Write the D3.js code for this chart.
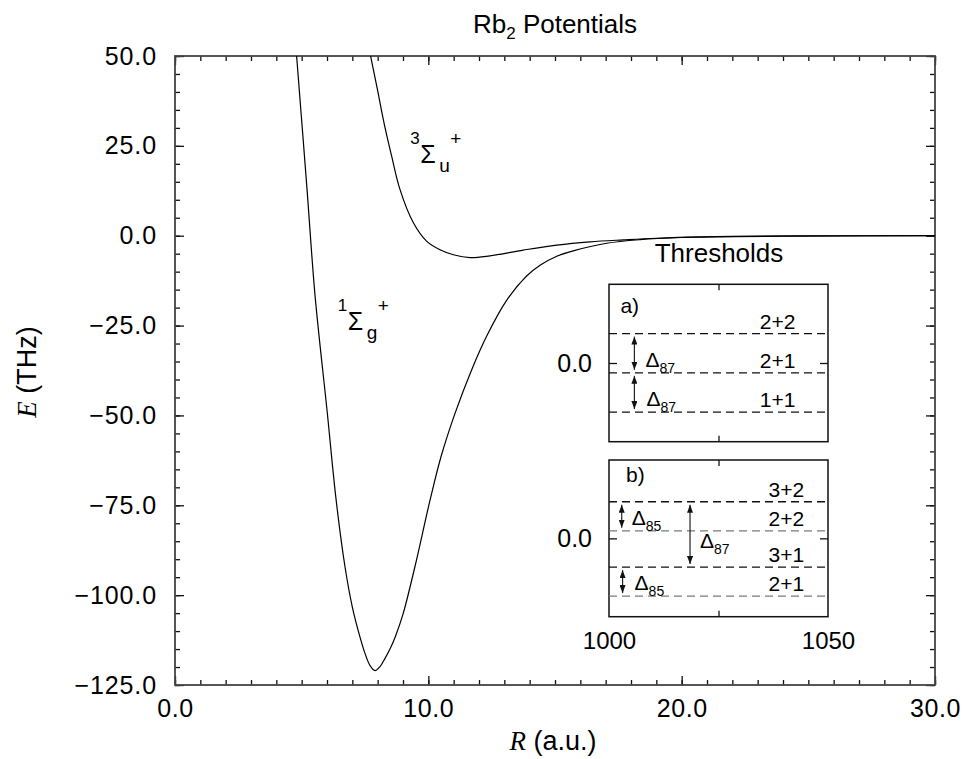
<!DOCTYPE html>
<html>
<head>
<meta charset="utf-8">
<script src="https://cdn.jsdelivr.net/npm/d3@7"></script>
<style>
  body { margin: 0; background: #fff; }
  svg { font-family: "Liberation Sans", Arial, sans-serif; }
  .tick text { fill: #000; }
</style>
</head>
<body>
<div id="chart"></div>
<script>
// singlet 1Σg+ potential (R in a.u., E in THz)
const singletR = [4.80, 5.20, 5.53, 6.00, 6.36, 6.71, 7.00, 7.30, 7.50, 7.70, 7.89, 8.10, 8.29, 8.50, 8.70, 9.00, 9.47, 10.07, 10.50, 11.05, 11.70, 12.30, 13.09, 13.88, 14.41, 15.07, 15.72, 17.04, 18.36, 20.0, 22.0, 25.0, 30.0];
const singletE = [50, 14, -16.8, -48.5, -73.5, -92.1, -103.3, -111.6, -116.2, -119.6, -121.0, -119.8, -117.6, -114.8, -111.5, -105.3, -92.1, -73.5, -61.5, -49.5, -37.5, -28.0, -18.0, -11.2, -8.2, -5.7, -4.2, -2.1, -1.1, -0.5, -0.2, -0.05, 0];
// triplet 3Σu+ potential
const tripletR = [7.72, 7.99, 8.25, 8.55, 8.88, 9.41, 9.93, 10.46, 10.99, 11.64, 12.43, 13.75, 15.07, 16.38, 17.70, 19.0, 21.0, 24.0, 30.0];
const tripletE = [50, 40.7, 31.4, 22.2, 12.9, 3.6, -1.5, -3.9, -5.3, -6.1, -5.6, -4.0, -2.6, -1.7, -1.15, -0.7, -0.35, -0.12, 0];

// threshold energies (GHz) for the insets
const thresholdsA = ["2+2", "2+1", "1+1"];
const thresholdsAE = [5.126, -1.709, -8.544];
const thresholdsB = ["3+2", "2+2", "3+1", "2+1"];
const thresholdsBE = [3.828, 0.792, -3.007, -6.043];

const xTicks = [0, 10, 20, 30];
const yTicks = [-125, -100, -75, -50, -25, 0, 25, 50];
const insetXTicks = [1000, 1050];

const width = 965, height = 759;
const svg = d3.select("#chart").append("svg")
  .attr("width", width)
  .attr("height", height);

const x = d3.scaleLinear().domain([0, 30]).range([175, 935]);
const y = d3.scaleLinear().domain([-125, 50]).range([685, 56]);
const fmt = d3.format(".1f");

function styleAxis(g) {
  g.select(".domain").remove();
  g.selectAll(".tick line").attr("stroke", "#111").attr("stroke-width", 1.3);
  g.selectAll(".tick text").attr("font-family", "Liberation Sans, Arial, sans-serif");
}

// minor ticks
svg.append("g").attr("transform", `translate(0,${y(-125)})`)
  .call(d3.axisBottom(x).tickValues(d3.range(0, 31, 1)).tickSizeInner(-5).tickSizeOuter(0).tickFormat(""))
  .call(styleAxis);
svg.append("g").attr("transform", `translate(0,${y(50)})`)
  .call(d3.axisTop(x).tickValues(d3.range(0, 31, 1)).tickSizeInner(-5).tickSizeOuter(0).tickFormat(""))
  .call(styleAxis);
svg.append("g").attr("transform", `translate(${x(0)},0)`)
  .call(d3.axisLeft(y).tickValues(d3.range(-125, 51, 5)).tickSizeInner(-5).tickSizeOuter(0).tickFormat(""))
  .call(styleAxis);
svg.append("g").attr("transform", `translate(${x(30)},0)`)
  .call(d3.axisRight(y).tickValues(d3.range(-125, 51, 5)).tickSizeInner(-5).tickSizeOuter(0).tickFormat(""))
  .call(styleAxis);

// major ticks
svg.append("g").attr("transform", `translate(0,${y(-125)})`)
  .call(d3.axisBottom(x).tickValues(xTicks).tickSizeInner(-9).tickSizeOuter(0).tickPadding(14).tickFormat(fmt))
  .call(styleAxis)
  .selectAll("text").attr("font-size", 25).attr("letter-spacing", 0.6);
svg.append("g").attr("transform", `translate(0,${y(50)})`)
  .call(d3.axisTop(x).tickValues(xTicks).tickSizeInner(-9).tickSizeOuter(0).tickFormat(""))
  .call(styleAxis);
svg.append("g").attr("transform", `translate(${x(0)},0)`)
  .call(d3.axisLeft(y).tickValues(yTicks).tickSizeInner(-9).tickSizeOuter(0).tickPadding(18).tickFormat(fmt))
  .call(styleAxis)
  .selectAll("text").attr("font-size", 25).attr("letter-spacing", 0.9);
svg.append("g").attr("transform", `translate(${x(30)},0)`)
  .call(d3.axisRight(y).tickValues(yTicks).tickSizeInner(-9).tickSizeOuter(0).tickFormat(""))
  .call(styleAxis);

svg.append("rect")
  .attr("x", x(0)).attr("y", y(50))
  .attr("width", x(30) - x(0)).attr("height", y(-125) - y(50))
  .attr("fill", "none").attr("stroke", "#444").attr("stroke-width", 1.8);

// curves
svg.append("clipPath").attr("id", "plot-clip").append("rect")
  .attr("x", x(0)).attr("y", y(50))
  .attr("width", x(30) - x(0)).attr("height", y(-125) - y(50));

const line = d3.line()
  .x(d => x(d[0]))
  .y(d => y(d[1]))
  .curve(d3.curveCatmullRom.alpha(0.5));

const curves = [d3.zip(singletR, singletE), d3.zip(tripletR, tripletE)];
svg.append("g").attr("clip-path", "url(#plot-clip)")
  .selectAll("path")
  .data(curves)
  .enter().append("path")
    .attr("d", line)
    .attr("fill", "none")
    .attr("stroke", "#000")
    .attr("stroke-width", 1.2);

// titles
const title = svg.append("text")
  .attr("x", 555).attr("y", 33)
  .attr("text-anchor", "middle")
  .attr("font-size", 26);
title.append("tspan").text("Rb");
title.append("tspan").attr("font-size", 17).attr("dy", 6).text("2");
title.append("tspan").attr("dy", -6).text(" Potentials");

const xl = svg.append("text")
  .attr("x", 553).attr("y", 750)
  .attr("text-anchor", "middle")
  .attr("font-size", 27);
xl.append("tspan").attr("font-family", "Liberation Serif, Times New Roman, serif").attr("font-style", "italic").text("R");
xl.append("tspan").text(" (a.u.)");

const yl = svg.append("text")
  .attr("transform", "translate(36,372) rotate(-90)")
  .attr("text-anchor", "middle")
  .attr("font-size", 27);
yl.append("tspan").attr("font-family", "Liberation Serif, Times New Roman, serif").attr("font-style", "italic").text("E");
yl.append("tspan").text(" (THz)");

// state labels
function stateLabel(R, E, left, sub) {
  const x0 = x(R), y0 = y(E);
  const g = svg.append("g");
  g.append("text").attr("x", x0 - 10).attr("y", y0 - 19).attr("font-size", 17).text(left);
  g.append("text").attr("x", x0).attr("y", y0).attr("font-size", 25).text("Σ");
  g.append("text").attr("x", x0 + 19).attr("y", y0 + 9).attr("font-size", 19).text(sub);
  g.append("text").attr("x", x0 + 30).attr("y", y0 - 18).attr("font-size", 19).text("+");
}
stateLabel(9.68, 20.3, "3", "u");
stateLabel(6.82, -26.2, "1", "g");

// insets
svg.append("text")
  .attr("x", 719).attr("y", 262)
  .attr("text-anchor", "middle")
  .attr("font-size", 26)
  .text("Thresholds");

const xi = d3.scaleLinear().domain([1000, 1050]).range([609, 828]);

const defs = svg.append("defs");
defs.append("marker")
  .attr("id", "head")
  .attr("viewBox", "0 0 8 6")
  .attr("refX", 8).attr("refY", 3)
  .attr("markerWidth", 8).attr("markerHeight", 6)
  .attr("markerUnits", "userSpaceOnUse")
  .attr("orient", "auto-start-reverse")
  .append("path").attr("d", "M0,0 L8,3 L0,6 z").attr("fill", "#111");

function inset(yDom, yRange, names, energies, tag, arrows, showX, grayLines) {
  const yi = d3.scaleLinear().domain(yDom).range(yRange);
  const g = svg.append("g");

  g.append("g").attr("transform", `translate(0,${yRange[0]})`)
    .call(d3.axisBottom(xi).tickValues([1025]).tickSizeInner(-6).tickSizeOuter(0).tickFormat(""))
    .call(styleAxis);
  g.append("g").attr("transform", `translate(0,${yRange[1]})`)
    .call(d3.axisTop(xi).tickValues([1025]).tickSizeInner(-6).tickSizeOuter(0).tickFormat(""))
    .call(styleAxis);
  g.append("g").attr("transform", `translate(${xi(1000)},0)`)
    .call(d3.axisLeft(yi).tickValues([0]).tickSizeInner(-8).tickSizeOuter(0).tickPadding(17).tickFormat(fmt))
    .call(styleAxis)
    .selectAll("text").attr("font-size", 25);
  g.append("g").attr("transform", `translate(${xi(1050)},0)`)
    .call(d3.axisRight(yi).tickValues([0]).tickSizeInner(-8).tickSizeOuter(0).tickFormat(""))
    .call(styleAxis);
  if (showX) {
    g.append("g").attr("transform", `translate(0,${yRange[0]})`)
      .call(d3.axisBottom(xi).tickValues(insetXTicks).tickSize(0).tickPadding(15).tickFormat(d3.format("d")))
      .call(styleAxis)
      .selectAll("text").attr("font-size", 24);
  }

  g.append("rect")
    .attr("x", xi(1000)).attr("y", yRange[1])
    .attr("width", xi(1050) - xi(1000)).attr("height", yRange[0] - yRange[1])
    .attr("fill", "none").attr("stroke", "#111").attr("stroke-width", 1.5);

  g.selectAll("line.thr")
    .data(d3.zip(names, energies))
    .enter().append("line")
      .attr("class", "thr")
      .attr("x1", xi(1000)).attr("x2", xi(1050))
      .attr("y1", d => yi(d[1])).attr("y2", d => yi(d[1]))
      .attr("stroke", (d, i) => grayLines.includes(i) ? "#7a7a7a" : "#111")
      .attr("stroke-width", 1.3)
      .attr("stroke-dasharray", "8,5");

  g.selectAll("text.thr")
    .data(d3.zip(names, energies))
    .enter().append("text")
      .attr("class", "thr")
      .attr("x", xi(tag === "a)" ? 1038.5 : 1040.5))
      .attr("y", d => yi(d[1]) - 5)
      .attr("text-anchor", "middle")
      .attr("font-size", 21)
      .text(d => d[0]);

  g.append("text")
    .attr("x", xi(tag === "a)" ? 1002.6 : 1003.9))
    .attr("y", yRange[1] + (tag === "a)" ? 29 : 22))
    .attr("font-size", 21)
    .text(tag);

  arrows.forEach(a => {
    const y1 = yi(energies[a.from]), y2 = yi(energies[a.to]);
    g.append("line")
      .attr("x1", xi(a.R)).attr("x2", xi(a.R))
      .attr("y1", y1 + 3).attr("y2", y2 - 3)
      .attr("stroke", "#222").attr("stroke-width", 1.2)
      .attr("marker-start", "url(#head)")
      .attr("marker-end", "url(#head)");
    const ly = a.mid ? (y1 + y2) / 2 + 14 : y2 - 6;
    const t = g.append("text")
      .attr("x", xi(a.R) + a.dx).attr("y", ly)
      .attr("font-size", 21);
    t.append("tspan").text("Δ");
    t.append("tspan").attr("font-size", 14).attr("dy", 6).text(a.sub);
  });
}

inset([-13.7, 13.7], [441.7, 284.3], thresholdsA, thresholdsAE, "a)",
  [{R: 1005.8, from: 0, to: 1, sub: "87", dx: 11},
   {R: 1005.8, from: 1, to: 2, sub: "87", dx: 12}],
  false, []);
inset([-8.2, 8.2], [616.7, 460], thresholdsB, thresholdsBE, "b)",
  [{R: 1002.9, from: 0, to: 1, sub: "85", dx: 10},
   {R: 1018.5, from: 0, to: 2, sub: "87", dx: 10, mid: true},
   {R: 1003.1, from: 2, to: 3, sub: "85", dx: 12}],
  true, [1, 3]);
</script>
</body>
</html>
